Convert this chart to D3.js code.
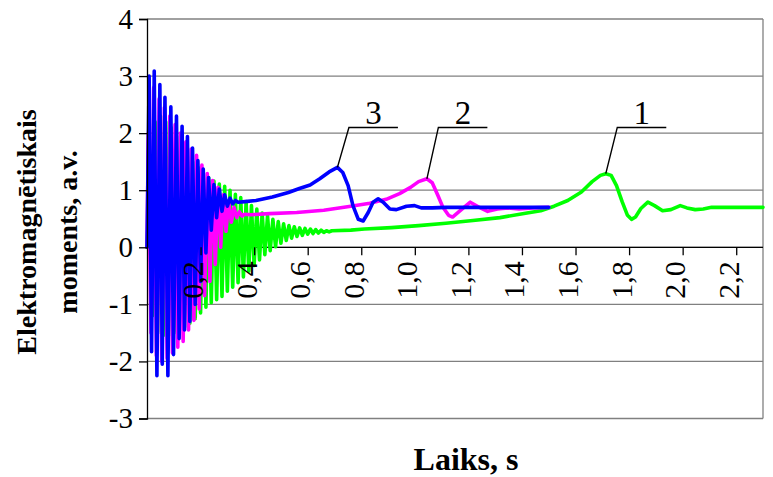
<!DOCTYPE html>
<html>
<head>
<meta charset="utf-8">
<script src="https://cdn.jsdelivr.net/npm/d3@7/dist/d3.min.js"></script>
<style>
  html, body { margin: 0; padding: 0; background: #fff; }
  svg { display: block; }
  text { font-family: "Liberation Serif", "Times New Roman", serif; }
</style>
</head>
<body>
<svg id="chart" width="773" height="477"></svg>
<script>
// Axis ticks
const xTicks = [0.2, 0.4, 0.6, 0.8, 1.0, 1.2, 1.4, 1.6, 1.8, 2.0, 2.2];
const yTicks = [-3, -2, -1, 0, 1, 2, 3, 4];
const xMax = 2.30;

// Curve 1 (green): time [s], torque [a.v.]
const curve1 = [
  [0,0],[0.01,1.0],[0.02,-1.2],[0.03,2.2],[0.04,-1.5],[0.05,2.3],[0.06,-1.55],[0.07,2.2],
  [0.08,-1.55],[0.09,2.1],[0.10,-1.5],[0.11,1.95],[0.12,-1.45],[0.13,1.8],[0.14,-1.4],
  [0.15,1.65],[0.16,-1.33],[0.17,1.5],[0.18,-1.25],[0.19,1.4],[0.20,-1.15],[0.21,1.3],
  [0.22,-1.05],[0.23,1.22],[0.24,-0.97],[0.25,1.16],[0.26,-0.92],[0.27,1.11],[0.28,-0.86],
  [0.29,1.07],[0.30,-0.77],[0.31,1.0],[0.32,-0.7],[0.33,0.93],[0.34,-0.62],[0.35,0.87],
  [0.36,-0.52],[0.37,0.8],[0.38,-0.42],[0.39,0.73],[0.40,-0.32],[0.41,0.67],[0.42,-0.22],
  [0.43,0.6],[0.44,-0.13],[0.45,0.55],[0.46,-0.06],[0.47,0.49],[0.48,0.01],[0.49,0.45],
  [0.50,0.07],[0.51,0.41],[0.52,0.12],[0.53,0.38],[0.54,0.16],[0.55,0.36],[0.56,0.19],
  [0.57,0.34],[0.58,0.21],[0.59,0.33],[0.60,0.23],[0.61,0.32],[0.62,0.24],[0.63,0.31],
  [0.64,0.25],[0.65,0.3],[0.66,0.26],[0.67,0.29],[0.68,0.27],[0.69,0.29],
  [0.761,0.30],[0.812,0.32],[0.913,0.345],[1.014,0.38],[1.116,0.42],[1.217,0.47],
  [1.318,0.52],[1.419,0.60],[1.47,0.64],[1.52,0.72],[1.571,0.82],[1.622,0.97],
  [1.662,1.15],[1.693,1.26],[1.713,1.29],[1.733,1.26],[1.753,1.08],[1.774,0.80],
  [1.794,0.56],[1.809,0.49],[1.824,0.53],[1.844,0.68],[1.87,0.79],[1.895,0.73],
  [1.925,0.64],[1.956,0.66],[1.991,0.73],[2.016,0.69],[2.047,0.66],[2.077,0.67],
  [2.108,0.70],[2.178,0.70],[2.30,0.70]
];

// Curve 2 (magenta)
const curve2 = [
  [0,0],[0.005,2.0],[0.015,-1.5],[0.025,2.8],[0.035,-1.9],[0.045,2.6],[0.055,-2.0],
  [0.065,2.45],[0.075,-1.95],[0.085,2.3],[0.095,-1.85],[0.105,2.15],[0.115,-1.75],
  [0.125,2.0],[0.135,-1.65],[0.145,1.85],[0.155,-1.45],[0.165,1.72],[0.175,-1.28],
  [0.185,1.61],[0.195,-1.08],[0.205,1.44],[0.215,-0.85],[0.225,1.29],[0.235,-0.6],
  [0.245,1.17],[0.255,-0.3],[0.265,1.05],[0.275,0.0],[0.285,0.92],[0.295,0.28],
  [0.305,0.80],[0.315,0.44],[0.325,0.70],[0.335,0.52],[0.345,0.62],[0.355,0.55],
  [0.365,0.58],[0.387,0.57],[0.458,0.59],[0.559,0.61],[0.660,0.65],[0.761,0.72],
  [0.832,0.77],[0.893,0.84],[0.943,0.94],[0.984,1.05],[1.014,1.15],[1.045,1.20],
  [1.065,1.13],[1.085,0.92],[1.105,0.70],[1.126,0.56],[1.141,0.53],[1.166,0.63],
  [1.207,0.79],[1.237,0.71],[1.272,0.63],[1.308,0.67],[1.348,0.69],[1.389,0.67],
  [1.44,0.69],[1.50,0.70]
];

// Curve 3 (blue)
const curve3 = [
  [0,0],[0.008,3.0],[0.017,-1.83],[0.027,3.09],[0.037,-2.25],[0.048,2.85],[0.057,-2.05],
  [0.067,2.63],[0.078,-2.25],[0.089,2.46],[0.099,-1.88],[0.11,2.3],[0.12,-1.6],
  [0.131,2.12],[0.14,-1.45],[0.151,1.94],[0.16,-1.3],[0.17,1.74],[0.18,-1.0],
  [0.19,1.52],[0.20,-0.6],[0.21,1.37],[0.22,-0.1],[0.23,1.22],[0.24,0.3],[0.25,1.1],
  [0.26,0.52],[0.27,1.02],[0.28,0.63],[0.29,0.92],[0.30,0.72],[0.31,0.86],[0.32,0.76],
  [0.33,0.82],[0.34,0.79],[0.366,0.80],[0.407,0.82],[0.468,0.88],[0.528,0.96],
  [0.569,1.03],[0.609,1.09],[0.645,1.2],[0.68,1.32],[0.711,1.40],[0.731,1.31],
  [0.751,1.08],[0.769,0.73],[0.789,0.49],[0.807,0.46],[0.826,0.61],[0.844,0.79],
  [0.863,0.85],[0.882,0.79],[0.907,0.67],[0.931,0.66],[0.969,0.72],[0.999,0.73],
  [1.024,0.69],[1.065,0.69],[1.116,0.70],[1.217,0.70],[1.318,0.70],[1.419,0.70],
  [1.50,0.70]
];

const curves = [
  { name: "1", data: curve1, color: "#00ff00" },
  { name: "2", data: curve2, color: "#ff00ff" },
  { name: "3", data: curve3, color: "#0000ff" }
];

const yTitle = ["Elektromagnētiskais", "moments, a.v."];
const xTitle = "Laiks, s";

const svg = d3.select("#chart");
const W = 773, H = 477;
const m = { left: 147, top: 19, right: 10, bottom: 58.5 };
const pw = W - m.left - m.right, ph = H - m.top - m.bottom;

const x = d3.scaleLinear().domain([0, xMax]).range([m.left, m.left + pw]);
const y = d3.scaleLinear().domain([-3, 4]).range([m.top + ph, m.top]);

// Horizontal gridlines and right frame
svg.append("g").selectAll("line").data(yTicks).join("line")
  .attr("x1", m.left).attr("x2", m.left + pw)
  .attr("y1", d => y(d)).attr("y2", d => y(d))
  .attr("stroke", "#808080").attr("stroke-width", 1.3);
svg.append("line")
  .attr("x1", m.left + pw).attr("x2", m.left + pw)
  .attr("y1", y(4)).attr("y2", y(-3))
  .attr("stroke", "#808080").attr("stroke-width", 1.3);

// Zero line
svg.append("line")
  .attr("x1", m.left).attr("x2", m.left + pw)
  .attr("y1", y(0)).attr("y2", y(0))
  .attr("stroke", "#000").attr("stroke-width", 1.3);

// Curves
const line = d3.line().x(d => x(d[0])).y(d => y(d[1]));
svg.append("g").selectAll("path").data(curves).join("path")
  .attr("d", d => line(d.data))
  .attr("fill", "none")
  .attr("stroke", d => d.color)
  .attr("stroke-width", 3.6)
  .attr("stroke-linejoin", "round")
  .attr("stroke-linecap", "round");

// Y axis
const yAxis = svg.append("g").attr("transform", `translate(${m.left},0)`)
  .call(d3.axisLeft(y).tickValues(yTicks).tickSize(8).tickPadding(6).tickFormat(d => String(d)));
yAxis.select(".domain").attr("stroke", "#000").attr("stroke-width", 1.3);
yAxis.selectAll(".tick line").attr("stroke", "#000").attr("stroke-width", 1.3);
yAxis.selectAll(".tick text")
  .attr("font-family", "Liberation Serif").attr("font-size", 29).attr("fill", "#000");

// X axis on the zero line
const xAxis = svg.append("g").attr("transform", `translate(0,${y(0)})`)
  .call(d3.axisBottom(x).tickValues(xTicks).tickSize(8)
    .tickFormat(d => d.toFixed(1).replace(".", ",")));
xAxis.select(".domain").remove();
xAxis.selectAll(".tick line").attr("stroke", "#000").attr("stroke-width", 1.3);
xAxis.selectAll(".tick text")
  .attr("font-family", "Liberation Serif").attr("font-size", 30).attr("fill", "#000")
  .attr("text-anchor", "end")
  .attr("dy", null)
  .attr("y", 0)
  .attr("transform", "translate(2,14) rotate(-90)");

// Curve labels with leader lines from each curve's peak (after start-up)
const labelLine = 2.1;
curves.forEach(c => {
  const peak = d3.greatest(c.data.filter(d => d[0] > 0.5), d => d[1]);
  const px = x(peak[0]), py = y(peak[1]);
  const ex = px + 11.5, ey = y(labelLine);
  const g = svg.append("g");
  g.append("path")
    .attr("d", `M${px},${py}L${ex},${ey}L${ex + 49},${ey}`)
    .attr("fill", "none").attr("stroke", "#000").attr("stroke-width", 1.4);
  g.append("text")
    .attr("x", ex + 24.5).attr("y", ey - 3)
    .attr("text-anchor", "middle")
    .attr("font-size", 33).attr("fill", "#000")
    .text(c.name);
});

// Axis titles
const yt = svg.append("text")
  .attr("transform", "translate(36,232) rotate(-90)")
  .attr("text-anchor", "middle")
  .attr("font-size", 28).attr("font-weight", "bold");
yt.append("tspan").attr("x", 0).attr("y", 0).text(yTitle[0]);
yt.append("tspan").attr("x", 0).attr("y", 41).text(yTitle[1]);

svg.append("text")
  .attr("x", 466).attr("y", 470)
  .attr("text-anchor", "middle")
  .attr("font-size", 32).attr("font-weight", "bold")
  .text(xTitle);
</script>
</body>
</html>
